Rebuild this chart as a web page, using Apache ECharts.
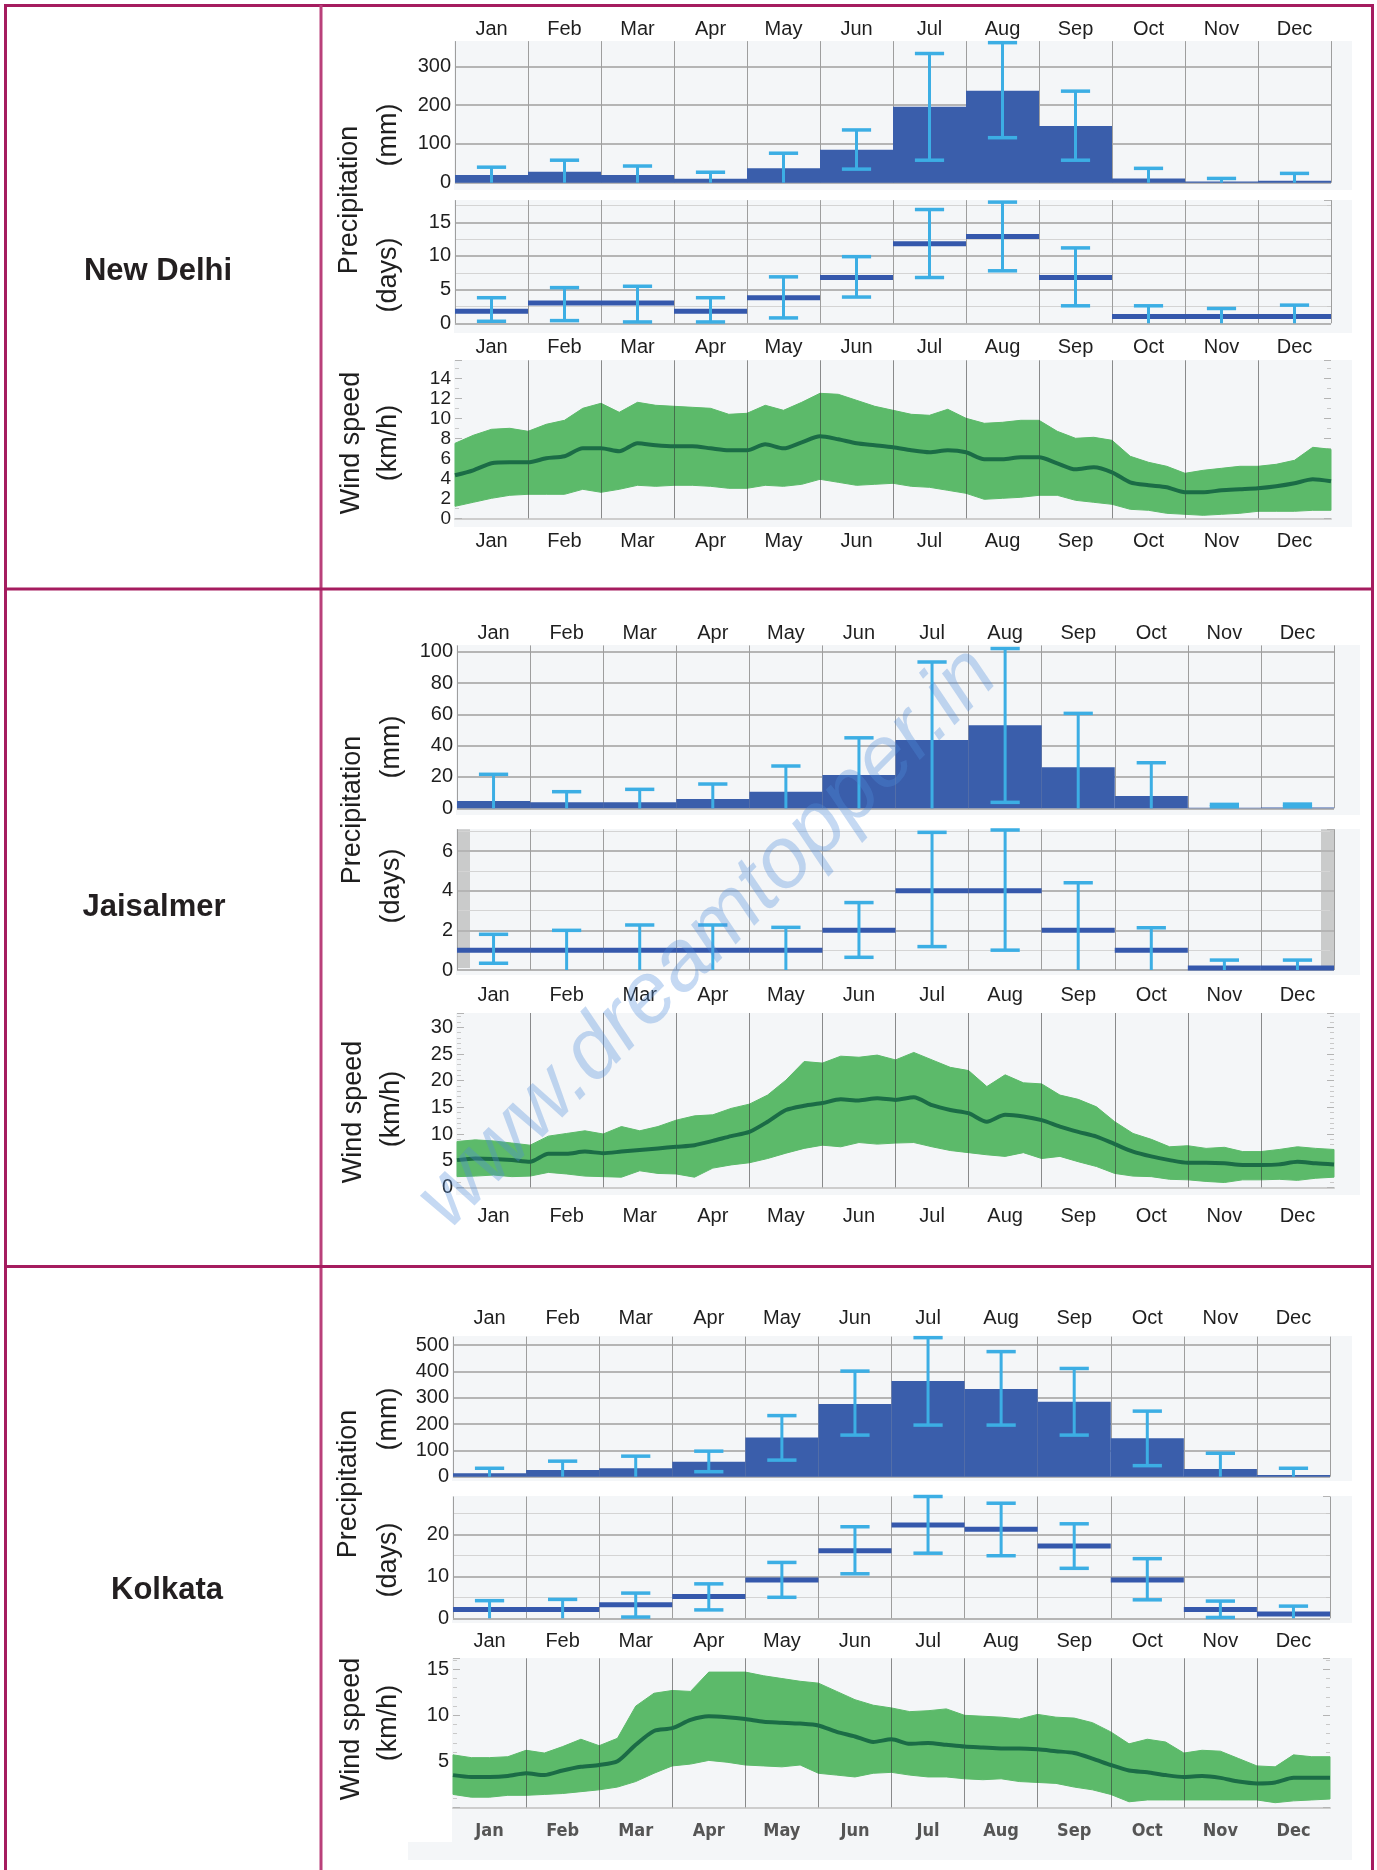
<!DOCTYPE html>
<html>
<head>
<meta charset="utf-8">
<title>Climate: New Delhi, Jaisalmer, Kolkata</title>
<script src="https://cdn.jsdelivr.net/npm/echarts@6/dist/echarts.min.js"></script>
<style>
  html, body { margin: 0; padding: 0; background: #ffffff; }
  #chart { width: 1377px; height: 1870px; }
</style>
</head>
<body>
<div id="chart"></div>
<script>
// ---------- data ----------
const MONTHS = ['Jan', 'Feb', 'Mar', 'Apr', 'May', 'Jun', 'Jul', 'Aug', 'Sep', 'Oct', 'Nov', 'Dec'];
const MONTH_EDGES = [1, 2, 3, 4, 5, 6, 7, 8, 9, 10, 11];
// wind sampling positions, in months from 1 January
const WIND_POS = [0, 0.25, 0.5, 0.75, 1, 1.25, 1.5, 1.75, 2, 2.25, 2.5, 2.75, 3, 3.25, 3.5, 3.75,
  4, 4.25, 4.5, 4.75, 5, 5.25, 5.5, 5.75, 6, 6.25, 6.5, 6.75, 7, 7.25, 7.5, 7.75,
  8, 8.25, 8.5, 8.75, 9, 9.25, 9.5, 9.75, 10, 10.25, 10.5, 10.75, 11, 11.25, 11.5, 11.75, 12];

// New Delhi
const DELHI_RAIN_MM = [20, 28, 20, 10, 37, 85, 196, 237, 146, 11, 3, 5];
const DELHI_RAIN_MM_LOW = [0, 0, 0, 0, 0, 35, 58, 116, 58, 0, 0, 0];
const DELHI_RAIN_MM_HIGH = [40, 58, 43, 27, 76, 136, 333, 361, 236, 37, 11, 24];
const DELHI_RAIN_DAYS = [1.8, 3, 3, 1.8, 3.8, 6.8, 11.8, 12.9, 6.8, 1, 1, 1];
const DELHI_RAIN_DAYS_LOW = [0.3, 0.4, 0.2, 0.2, 0.8, 3.9, 6.8, 7.8, 2.6, 0, 0, 0];
const DELHI_RAIN_DAYS_HIGH = [3.8, 5.3, 5.5, 3.8, 6.9, 9.9, 16.9, 18.0, 11.2, 2.6, 2.2, 2.7];
const DELHI_WIND_HIGH = [7.5, 8.3, 8.9, 9.0, 8.7, 9.4, 9.8, 11.0, 11.5, 10.6, 11.6, 11.3, 11.2, 11.1, 11.0, 10.4,
  10.5, 11.3, 10.8, 11.6, 12.5, 12.4, 11.8, 11.2, 10.8, 10.4, 10.3, 10.9, 10.0, 9.5, 9.6, 9.8,
  9.8, 8.7, 8.0, 8.1, 7.8, 6.2, 5.6, 5.2, 4.5, 4.8, 5.0, 5.2, 5.2, 5.4, 5.8, 7.1, 6.9];
const DELHI_WIND_MED = [4.3, 4.8, 5.5, 5.6, 5.6, 6.0, 6.2, 7.0, 7.0, 6.7, 7.5, 7.3, 7.2, 7.2, 7.0, 6.8,
  6.8, 7.4, 7.0, 7.6, 8.2, 7.9, 7.5, 7.3, 7.1, 6.8, 6.6, 6.8, 6.6, 5.9, 5.9, 6.1,
  6.1, 5.5, 4.9, 5.1, 4.6, 3.6, 3.3, 3.1, 2.6, 2.6, 2.8, 2.9, 3.0, 3.2, 3.5, 3.9, 3.7];
const DELHI_WIND_LOW = [1.2, 1.6, 2.0, 2.3, 2.4, 2.4, 2.4, 2.9, 2.6, 2.9, 3.3, 3.2, 3.3, 3.3, 3.2, 3.0,
  3.0, 3.3, 3.2, 3.4, 3.9, 3.6, 3.3, 3.4, 3.5, 3.2, 3.1, 2.8, 2.5, 1.9, 2.0, 2.1,
  2.3, 2.3, 1.8, 1.6, 1.4, 0.9, 0.8, 0.5, 0.4, 0.3, 0.4, 0.5, 0.7, 0.7, 0.7, 0.8, 0.8];

// Jaisalmer
const JAIS_RAIN_MM = [4.7, 3.8, 3.8, 6, 10.6, 21.3, 43.6, 53, 26.2, 7.9, 0.4, 0.5];
const JAIS_RAIN_MM_LOW = [0, 0, 0, 0, 0, 0, 0, 3.8, 0, 0, 1, 1];
const JAIS_RAIN_MM_HIGH = [21.7, 10.6, 12.1, 15.5, 27, 45, 93.4, 102, 60.6, 29.1, 2.5, 2.7];
const JAIS_RAIN_DAYS = [1, 1, 1, 1, 1, 2, 4, 4, 2, 1, 0.1, 0.1];
const JAIS_RAIN_DAYS_LOW = [0.34, 0, 0, 0, 0, 0.64, 1.18, 1.0, 0, 0, 0, 0];
const JAIS_RAIN_DAYS_HIGH = [1.8, 2.0, 2.27, 2.27, 2.15, 3.4, 6.94, 7.06, 4.4, 2.13, 0.5, 0.5];
const JAIS_WIND_HIGH = [8.6, 8.9, 8.7, 8.3, 7.9, 9.6, 10.1, 10.6, 10.0, 11.4, 10.6, 11.4, 12.6, 13.4, 13.6, 14.8,
  15.6, 17.3, 20.1, 23.6, 23.3, 24.6, 24.4, 24.8, 23.9, 25.3, 23.9, 22.5, 21.9, 18.9, 21.1, 19.6,
  19.4, 17.3, 16.5, 15.1, 12.3, 10.1, 9.0, 7.6, 7.8, 7.3, 7.5, 6.7, 6.7, 7.1, 7.6, 7.3, 7.1];
const JAIS_WIND_MED = [5.1, 5.4, 5.3, 5.1, 4.8, 6.3, 6.3, 6.7, 6.4, 6.7, 7.0, 7.3, 7.6, 7.9, 8.7, 9.6,
  10.4, 12.3, 14.5, 15.3, 15.8, 16.5, 16.3, 16.7, 16.4, 16.9, 15.4, 14.5, 13.9, 12.3, 13.6, 13.3,
  12.6, 11.4, 10.4, 9.5, 8.1, 6.7, 5.8, 5.1, 4.6, 4.6, 4.5, 4.2, 4.2, 4.3, 4.8, 4.5, 4.3];
const JAIS_WIND_LOW = [2.0, 2.1, 2.3, 2.0, 2.1, 2.8, 2.5, 2.1, 2.0, 1.9, 3.1, 2.6, 2.5, 1.9, 3.6, 4.2,
  4.6, 5.4, 6.4, 7.3, 7.9, 7.6, 8.4, 8.1, 8.3, 8.4, 7.6, 6.9, 6.5, 6.1, 5.8, 6.5,
  5.4, 5.8, 4.8, 3.9, 2.6, 2.1, 2.0, 1.5, 1.4, 1.1, 0.9, 1.4, 1.4, 1.5, 1.3, 1.7, 1.9];

// Kolkata
const KOL_RAIN_MM = [13, 25, 32, 57, 149, 276, 363, 333, 285, 146, 29, 6];
const KOL_RAIN_MM_LOW = [0, 0, 0, 19, 63, 158, 196, 196, 158, 42, 0, 0];
const KOL_RAIN_MM_HIGH = [32, 59, 78, 97, 232, 401, 528, 475, 411, 249, 89, 32];
const KOL_RAIN_DAYS = [2.1, 2.1, 3.2, 5.2, 9.1, 16.1, 22.2, 21.2, 17.2, 9.1, 2.1, 1.0];
const KOL_RAIN_DAYS_LOW = [0, 0, 0.3, 2.0, 5.0, 10.6, 15.5, 14.9, 11.9, 4.4, 0.2, 0];
const KOL_RAIN_DAYS_HIGH = [4.2, 4.5, 6.0, 8.2, 13.3, 21.8, 29, 27.4, 22.5, 14.2, 4.1, 2.9];
const KOL_WIND_HIGH = [5.7, 5.4, 5.4, 5.5, 6.2, 5.9, 6.6, 7.4, 6.7, 7.5, 11.0, 12.4, 12.7, 12.6, 14.7, 14.7,
  14.7, 14.3, 14.0, 13.7, 13.5, 12.6, 11.7, 11.1, 10.8, 10.4, 10.5, 10.7, 10.0, 9.9, 9.8, 9.6,
  10.1, 9.8, 9.7, 9.2, 8.2, 6.9, 7.4, 7.1, 5.9, 6.2, 6.1, 5.3, 4.5, 4.4, 5.7, 5.5, 5.5];
const KOL_WIND_MED = [3.5, 3.3, 3.3, 3.4, 3.7, 3.5, 4.0, 4.4, 4.6, 5.0, 6.8, 8.3, 8.6, 9.5, 9.9, 9.8,
  9.6, 9.3, 9.2, 9.1, 8.9, 8.2, 7.7, 7.1, 7.4, 6.9, 7.0, 6.8, 6.6, 6.5, 6.4, 6.4,
  6.3, 6.1, 5.9, 5.3, 4.6, 4.0, 3.8, 3.5, 3.3, 3.4, 3.2, 2.8, 2.6, 2.7, 3.2, 3.2, 3.2];
const KOL_WIND_LOW = [1.4, 1.1, 1.1, 1.3, 1.3, 1.4, 1.5, 1.7, 1.9, 2.2, 2.8, 3.7, 4.5, 4.7, 5.1, 4.9,
  4.6, 4.5, 4.4, 4.6, 3.7, 3.5, 3.3, 3.7, 3.8, 3.5, 3.3, 3.3, 3.1, 3.0, 3.1, 2.8,
  2.7, 2.6, 2.2, 1.9, 1.4, 0.6, 0.8, 0.8, 0.8, 0.8, 0.8, 0.8, 0.8, 0.5, 0.7, 0.8, 0.9];

// ---------- styling and layout ----------
const FONT = "'Liberation Sans', Arial, Helvetica, sans-serif";
const C = {
  bar: '#3a5eab', err: '#3caee4', mean: '#3558ac',
  band: '#5cba6a', median: '#1b6c46',
  bg: '#f4f6f8', hgrid: '#b5b5b5', hminor: '#d4d4d4', vgrid: '#9e9e9e',
  border: '#a51c5f', text: '#1f1f1f', tick: '#b4b4b4'
};

const CITIES = [
  {
    name: 'New Delhi', nameAt: [158, 271], left: 455, width: 876, bgRight: 1352,
    mm: { top: 41.1, height: 141.6, max: 365, interval: 100, labelMargin: 2, bg: [41, 190] },
    days: { top: 200.1, height: 123.2, max: 18.3, interval: 5, minor: 2, labelMargin: 14, bg: [200, 333] },
    wind: { top: 360.3, height: 158, max: 15.8, interval: 2, minor: 2, labelMargin: 13, bg: [360, 527], ySize: 19 },
    titles: { precip: [350, 200], mm: [389, 135], days: [389, 275], wind: [352, 443], kmh: [389, 443] },
    rain: [DELHI_RAIN_MM, DELHI_RAIN_MM_LOW, DELHI_RAIN_MM_HIGH],
    rainDays: [DELHI_RAIN_DAYS, DELHI_RAIN_DAYS_LOW, DELHI_RAIN_DAYS_HIGH],
    windData: [DELHI_WIND_HIGH, DELHI_WIND_MED, DELHI_WIND_LOW]
  },
  {
    name: 'Jaisalmer', nameAt: [154, 907], left: 457, width: 877, bgRight: 1360,
    mm: { top: 645.4, height: 162.9, max: 104, interval: 20, labelMargin: 2, bg: [645, 815] },
    days: { top: 829.2, height: 140.8, max: 7.1, interval: 2, minor: 2, labelMargin: 15, bg: [829, 975], edges: true },
    wind: { top: 1013, height: 174.3, max: 32.7, interval: 5, minor: 5, labelMargin: 19, bg: [1013, 1195] },
    titles: { precip: [353, 810], mm: [392, 747], days: [392, 886], wind: [354, 1112], kmh: [392, 1109] },
    rain: [JAIS_RAIN_MM, JAIS_RAIN_MM_LOW, JAIS_RAIN_MM_HIGH],
    rainDays: [JAIS_RAIN_DAYS, JAIS_RAIN_DAYS_LOW, JAIS_RAIN_DAYS_HIGH],
    windData: [JAIS_WIND_HIGH, JAIS_WIND_MED, JAIS_WIND_LOW]
  },
  {
    name: 'Kolkata', nameAt: [167, 1590], left: 453, width: 877, bgRight: 1352,
    mm: { top: 1336.6, height: 140.1, max: 532, interval: 100, labelMargin: 8, bg: [1336, 1481] },
    days: { top: 1496.5, height: 121.8, max: 29, interval: 10, minor: 2, labelMargin: 13, bg: [1496, 1623] },
    wind: { top: 1658.3, height: 149, max: 16.2, interval: 5, minor: 5, labelMargin: 15, bg: [1658, 1842], hideZero: true,
            xLabel: { fontFamily: "'DejaVu Sans Condensed', 'DejaVu Sans', sans-serif", fontWeight: 'bold', fontSize: 18, color: '#555555' } },
    titles: { precip: [349, 1484], mm: [389, 1419], days: [389, 1560], wind: [352, 1729], kmh: [389, 1723] },
    rain: [KOL_RAIN_MM, KOL_RAIN_MM_LOW, KOL_RAIN_MM_HIGH],
    rainDays: [KOL_RAIN_DAYS, KOL_RAIN_DAYS_LOW, KOL_RAIN_DAYS_HIGH],
    windData: [KOL_WIND_HIGH, KOL_WIND_MED, KOL_WIND_LOW]
  }
];

// ---------- option builders ----------
const option = { animation: false, grid: [], xAxis: [], yAxis: [], series: [], graphic: { elements: [] } };
const G = option.graphic.elements;

function tickFormatter(step, hideZero) {
  return function (v) {
    const r = v / step;
    if (Math.abs(r - Math.round(r)) > 1e-6) return '';
    if (hideZero && v === 0) return '';
    return String(v);
  };
}

function addGrid(left, width, top, height) {
  option.grid.push({ left: left, top: top, width: width, height: height, show: false, containLabel: false });
  return option.grid.length - 1;
}

function monthAxis(gridIndex, position, margin, extraLabel) {
  return option.xAxis.push({
    type: 'category', gridIndex: gridIndex, data: MONTHS, position: position, boundaryGap: true,
    axisLine: { show: false }, axisTick: { show: false },
    axisLabel: Object.assign({ interval: 0, margin: margin, fontSize: 20, color: C.text, fontFamily: FONT }, extraLabel || {}),
    splitLine: { show: true, interval: 0, lineStyle: { color: C.vgrid, width: 1 } }
  }) - 1;
}

function valueAxis(gridIndex, p, opts) {
  opts = opts || {};
  return option.yAxis.push({
    type: 'value', gridIndex: gridIndex, min: 0, max: p.max, interval: p.interval,
    axisLine: { show: false },
    axisTick: { show: !!opts.ruler, inside: true, length: 7, lineStyle: { color: C.tick } },
    minorTick: { show: !!opts.ruler, splitNumber: p.minor || 2, length: 4, lineStyle: { color: '#c9c9c9' } },
    axisLabel: { margin: 4, fontSize: p.ySize || 20, color: C.text, fontFamily: FONT,
                 formatter: tickFormatter(p.interval, p.hideZero) },
    splitLine: { show: !!opts.grid, showMaxLine: false, lineStyle: { color: C.hgrid, width: 2 } },
    minorSplitLine: { show: !!opts.minorGrid, lineStyle: { color: C.hminor, width: 1 } }
  }) - 1;
}

function rulerAxis(gridIndex, p) {
  return option.yAxis.push({
    type: 'value', gridIndex: gridIndex, position: 'right', min: 0, max: p.max, interval: p.interval,
    axisLine: { show: false }, axisLabel: { show: false }, splitLine: { show: false },
    axisTick: { show: true, inside: true, length: 7, lineStyle: { color: C.tick } },
    minorTick: { show: true, splitNumber: p.minor || 2, length: 4, lineStyle: { color: '#c9c9c9' } }
  }) - 1;
}

function errorRender(capFrac) {
  return function (params, api) {
    const i = api.value(0);
    const lo = api.coord([i, api.value(1)]);
    const hi = api.coord([i, api.value(2)]);
    const half = api.size([1, 0])[0] * capFrac / 2;
    const stem = { stroke: C.err, lineWidth: 3 };
    const cap = { stroke: C.err, lineWidth: 3.5 };
    const kids = [
      { type: 'line', shape: { x1: hi[0], y1: hi[1], x2: lo[0], y2: lo[1] }, style: stem },
      { type: 'line', shape: { x1: hi[0] - half, y1: hi[1], x2: hi[0] + half, y2: hi[1] }, style: cap }
    ];
    if (api.value(1) > 0) {
      kids.push({ type: 'line', shape: { x1: lo[0] - half, y1: lo[1], x2: lo[0] + half, y2: lo[1] }, style: cap });
    }
    return { type: 'group', children: kids };
  };
}

function meanRender(params, api) {
  const i = api.value(0);
  const p = api.coord([i, api.value(1)]);
  const w = api.size([1, 0])[0];
  return { type: 'rect', shape: { x: p[0] - w / 2, y: p[1] - 2.5, width: w, height: 5 }, style: { fill: C.mean } };
}

// the wind spread between the low and high curves, drawn as one polygon
function bandRender(pos, low, high) {
  return function (params, api) {
    if (params.dataIndex !== 0) return null;
    const pts = [];
    for (let i = 0; i < pos.length; i++) pts.push(api.coord([pos[i], high[i]]));
    for (let i = pos.length - 1; i >= 0; i--) pts.push(api.coord([pos[i], low[i]]));
    return { type: 'polygon', shape: { points: pts }, style: { fill: C.band, stroke: C.band, lineWidth: 1 } };
  };
}

function errorSeries(xi, yi, low, high) {
  return {
    type: 'custom', xAxisIndex: xi, yAxisIndex: yi, z: 6, silent: true, clip: false,
    data: low.map(function (l, i) { return [i, l, high[i]]; }),
    renderItem: errorRender(0.4)
  };
}

function bgRect(x, y0, x1, y1, fill) {
  G.push({ type: 'rect', z: -5, silent: true, shape: { x: x, y: y0, width: x1 - x, height: y1 - y0 }, style: { fill: fill || C.bg } });
}

function addRotatedText(text, at, size) {
  G.push({ type: 'text', x: at[0], y: at[1], rotation: Math.PI / 2, z: 50, silent: true,
    style: { text: text, font: size + 'px ' + FONT, fill: C.text, textAlign: 'center', textVerticalAlign: 'middle' } });
}

CITIES.forEach(function (c) {
  // precipitation amount
  const gm = addGrid(c.left, c.width, c.mm.top, c.mm.height);
  const xm = monthAxis(gm, 'top', c.mm.labelMargin);
  const ym = valueAxis(gm, c.mm, { grid: true });
  option.series.push({ type: 'bar', xAxisIndex: xm, yAxisIndex: ym, data: c.rain[0],
    barCategoryGap: '0%', itemStyle: { color: C.bar }, z: 3, silent: true });
  option.series.push(errorSeries(xm, ym, c.rain[1], c.rain[2]));
  bgRect(c.left - 1, c.mm.bg[0], c.bgRight, c.mm.bg[1]);

  // precipitation days
  const gd = addGrid(c.left, c.width, c.days.top, c.days.height);
  const xd = monthAxis(gd, 'bottom', c.days.labelMargin);
  const yd = valueAxis(gd, c.days, { grid: true, minorGrid: true });
  rulerAxis(gd, c.days);
  option.series.push({ type: 'custom', xAxisIndex: xd, yAxisIndex: yd, z: 4, silent: true, clip: false,
    data: c.rainDays[0].map(function (v, i) { return [i, v]; }), renderItem: meanRender });
  option.series.push(errorSeries(xd, yd, c.rainDays[1], c.rainDays[2]));
  bgRect(c.left - 1, c.days.bg[0], c.bgRight, c.days.bg[1]);
  if (c.days.edges) {
    G.push({ type: 'rect', z: -4, silent: true, shape: { x: c.left, y: c.days.top, width: 13, height: c.days.height - 2 },
      style: { fill: '#bcbcbc', opacity: 0.75 } });
    G.push({ type: 'rect', z: -4, silent: true, shape: { x: c.left + c.width - 13, y: c.days.top, width: 13, height: c.days.height - 2 },
      style: { fill: '#bcbcbc', opacity: 0.75 } });
  }

  // wind speed
  const gw = addGrid(c.left, c.width, c.wind.top, c.wind.height);
  const xwv = option.xAxis.push({ type: 'value', gridIndex: gw, min: 0, max: 12, show: false }) - 1;
  option.xAxis.push({
    type: 'category', gridIndex: gw, data: MONTHS, position: 'bottom', boundaryGap: true,
    axisLine: { show: true, lineStyle: { color: '#cdcdcd', width: 2 } }, axisTick: { show: false },
    axisLabel: Object.assign({ interval: 0, margin: c.wind.labelMargin, fontSize: 20, color: C.text, fontFamily: FONT }, c.wind.xLabel || {}),
    splitLine: { show: false }
  });
  const yw = valueAxis(gw, c.wind, { ruler: true });
  rulerAxis(gw, c.wind);
  const hi = c.windData[0], md = c.windData[1], lo = c.windData[2];
  option.series.push({ type: 'custom', xAxisIndex: xwv, yAxisIndex: yw, z: 3, silent: true, clip: false,
    data: WIND_POS.map(function (x, i) { return [x, lo[i], hi[i]]; }),
    renderItem: bandRender(WIND_POS, lo, hi) });
  option.series.push({ type: 'line', xAxisIndex: xwv, yAxisIndex: yw, symbol: 'none', smooth: 0.25, z: 5, silent: true,
    lineStyle: { color: C.median, width: 4 },
    data: WIND_POS.map(function (x, i) { return [x, md[i]]; }),
    markLine: { silent: true, symbol: 'none', label: { show: false }, animation: false,
      lineStyle: { color: 'rgba(50,50,50,0.55)', width: 1, type: 'solid' },
      data: MONTH_EDGES.map(function (v) { return { xAxis: v }; }) } });
  bgRect(c.left - 1, c.wind.bg[0], c.bgRight, c.wind.bg[1]);

  // city name and axis titles
  G.push({ type: 'text', x: c.nameAt[0], y: c.nameAt[1], z: 50, silent: true,
    style: { text: c.name, font: 'bold 31px ' + FONT, fill: '#231f20', textAlign: 'center', textVerticalAlign: 'middle' } });
  addRotatedText('Precipitation', c.titles.precip, 27);
  addRotatedText('(mm)', c.titles.mm, 27);
  addRotatedText('(days)', c.titles.days, 27);
  addRotatedText('Wind speed', c.titles.wind, 27);
  addRotatedText('(km/h)', c.titles.kmh, 27);
});

// strip under the last month row
bgRect(408, 1842, 1352, 1860);

// table frame
function frameLine(x1, y1, x2, y2, color) {
  G.push({ type: 'line', z: 60, silent: true, shape: { x1: x1, y1: y1, x2: x2, y2: y2 },
    style: { stroke: color || C.border, lineWidth: 3 } });
}
frameLine(4, 5.5, 1374, 5.5);
frameLine(5.5, 4, 5.5, 1870);
frameLine(1372.5, 4, 1372.5, 1870);
frameLine(321, 5, 321, 1870, '#b9407a');
frameLine(5, 589, 1374, 589);
frameLine(5, 1266.5, 1374, 1266.5);

// site mark across the middle row
G.push({ type: 'text', x: 708, y: 938, rotation: Math.PI / 4, z: 70, silent: true,
  style: { text: 'www.dreamtopper.in', font: 'italic 86px ' + FONT, fill: 'rgba(80,140,220,0.33)',
    textAlign: 'center', textVerticalAlign: 'middle' } });

const chart = echarts.init(document.getElementById('chart'), null, { renderer: 'canvas' });
chart.setOption(option);
</script>
</body>
</html>
